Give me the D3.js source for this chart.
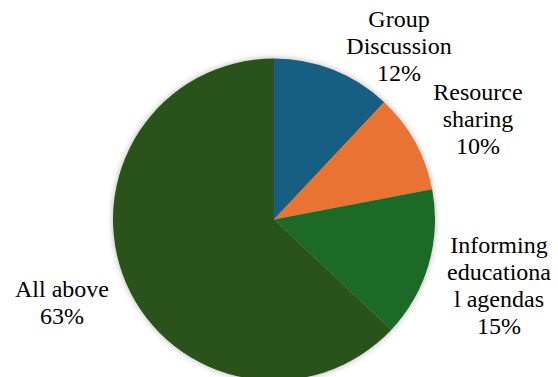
<!DOCTYPE html>
<html>
<head>
<meta charset="utf-8">
<script src="https://cdn.jsdelivr.net/npm/d3@7"></script>
<style>
  body { margin: 0; background: #fff; }
  svg { display: block; }
</style>
</head>
<body>
<div id="chart"></div>
<script>
// data
const categories = ["Group Discussion", "Resource sharing", "Informing educational agendas", "All above"];
const values = [12, 10, 15, 63];
// label lines as they wrap in the picture
const labelLines = [
  ["Group", "Discussion", "12%"],
  ["Resource", "sharing", "10%"],
  ["Informing", "educationa", "l agendas", "15%"],
  ["All above", "63%"]
];
const colors = ["#165f82", "#e97333", "#1a6b25", "#29521a"];

const width = 558, height = 377;
const cx = 274, cy = 219.5, radius = 161;
// label anchors (center x, first baseline y), placed like the original
const labelAnchors = [[399, 27], [478, 100], [499, 253], [62, 297]];
const lineStep = 27;

let svg = d3.select("#chart")
            .append("svg")
            .attr("width", width)
            .attr("height", height);

//soft glow-like shadow round the pie
let filter = svg.append("defs").append("filter")
                .attr("id", "shadow")
                .attr("x", "-20%").attr("y", "-20%")
                .attr("width", "140%").attr("height", "140%");
filter.append("feDropShadow")
      .attr("dx", 0).attr("dy", 0)
      .attr("stdDeviation", 3)
      .attr("flood-color", "#000")
      .attr("flood-opacity", 0.3);

let pie = d3.pie().sort(null).value(d => d);
let arc = d3.arc().innerRadius(0).outerRadius(radius);

let g = svg.append("g")
           .attr("transform", `translate(${cx},${cy})`)
           .attr("filter", "url(#shadow)");

g.selectAll("path")
 .data(pie(values))
 .enter()
 .append("path")
 .attr("d", arc)
 .attr("fill", (d, i) => colors[i]);

//labels
let labels = svg.selectAll("text.label")
                .data(categories)
                .enter()
                .append("text")
                .attr("class", "label")
                .attr("text-anchor", "middle")
                .attr("font-family", "Liberation Serif")
                .attr("font-size", 24)
                .attr("fill", "#000");

labels.each(function(d, i) {
  d3.select(this).selectAll("tspan")
    .data(labelLines[i])
    .enter()
    .append("tspan")
    .attr("x", labelAnchors[i][0])
    .attr("y", (t, j) => labelAnchors[i][1] + j * lineStep)
    .text(t => t);
});
</script>
</body>
</html>
